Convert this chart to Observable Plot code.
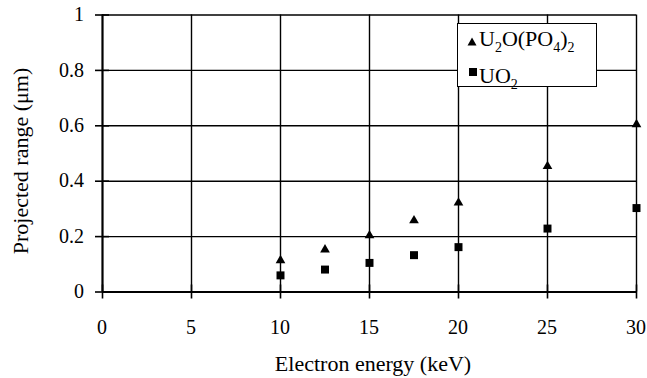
<!DOCTYPE html>
<html><head><meta charset="utf-8">
<script src="https://cdn.jsdelivr.net/npm/d3@7"></script>
<script src="https://cdn.jsdelivr.net/npm/@observablehq/plot@0.6"></script>
<style>
html,body{margin:0;padding:0;background:#fff;}
#wrap{position:relative;width:647px;height:378px;font-family:"Liberation Serif","Times New Roman",serif;color:#000;}
#wrap svg{display:block;}
.lbl{position:absolute;white-space:nowrap;font-family:"Liberation Serif","Times New Roman",serif;color:#000;}
.tick{font-size:20px;line-height:20px;}
.title{font-size:22px;line-height:22px;}
#legend{position:absolute;left:457px;top:23px;width:140px;height:64px;box-sizing:border-box;border:1.6px solid #000;background:#fff;}
.item{position:absolute;left:21px;font-size:22px;line-height:22px;white-space:nowrap;}
.item sub{font-size:14px;line-height:0;vertical-align:-6px;}
.sym{position:absolute;}
</style></head><body>
<div id="wrap"></div>
<script>
// Data
const energy = [10, 12.5, 15, 17.5, 20, 25, 30];            // keV
const rangeU2OPO4 = [0.114, 0.153, 0.204, 0.258, 0.322, 0.454, 0.605]; // µm
const rangeUO2 = [0.060, 0.081, 0.105, 0.133, 0.162, 0.229, 0.303];    // µm
const xTicks = [0, 5, 10, 15, 20, 25, 30];
const yTicks = [0, 0.2, 0.4, 0.6, 0.8, 1];
const xTitle = "Electron energy (keV)";
const yTitle = "Projected range (\u03bcm)";

const chart = Plot.plot({
  width: 647,
  height: 378,
  marginLeft: 102,
  marginRight: 11,
  marginTop: 14.5,
  marginBottom: 86.5,
  x: {domain: [0, 30]},
  y: {domain: [0, 1]},
  marks: [
    Plot.gridX(xTicks, {stroke: "#000", strokeOpacity: 1, strokeWidth: 1.4}),
    Plot.gridY(yTicks, {stroke: "#000", strokeOpacity: 1, strokeWidth: 1.4}),
    Plot.ruleX([0], {stroke: "#000", strokeWidth: 2}),
    Plot.ruleY([0], {stroke: "#000", strokeWidth: 2}),
    // crossing ticks (labels are drawn below as HTML from the same scales)
    Plot.axisX(xTicks, {tickSize: 14, dy: -7, tickFormat: () => "", label: null, strokeWidth: 1.6}),
    Plot.axisY(yTicks, {tickSize: 14, dx: 7, tickFormat: () => "", label: null, strokeWidth: 1.6}),
    // data
    Plot.dot(energy, {x: d => d, y: rangeU2OPO4, symbol: "triangle", r: 3.6, fill: "#000"}),
    Plot.dot(energy, {x: d => d, y: rangeUO2, symbol: "square", r: 4.5, fill: "#000"})
  ]
});

const wrap = document.getElementById("wrap");
wrap.appendChild(chart);

// Scales from the plot
const sxo = chart.scale("x"), syo = chart.scale("y");
const sx = sxo.apply ? (v => sxo.apply(v)) : d3.scaleLinear(sxo.domain, sxo.range);
const sy = syo.apply ? (v => syo.apply(v)) : d3.scaleLinear(syo.domain, syo.range);
const x0 = sx(0), x1 = sx(30), y0 = sy(0), y1 = sy(1);

function addLabel(text, cls, css) {
  const el = document.createElement("div");
  el.className = "lbl " + cls;
  el.textContent = text;
  Object.assign(el.style, css);
  wrap.appendChild(el);
  return el;
}

// x tick labels (baseline ~ 42.5px below the x axis)
for (const t of xTicks) {
  addLabel(String(t), "tick", {left: sx(t) + "px", top: (y0 + 25.8) + "px", transform: "translateX(-50%)"});
}
// y tick labels (right-aligned 18px left of the y axis)
for (const t of yTicks) {
  addLabel(String(t), "tick", {left: (x0 - 18) + "px", top: (sy(t) - 10.3) + "px", transform: "translateX(-100%)"});
}
// axis titles
addLabel(xTitle, "title", {left: ((x0 + x1) / 2 + 4) + "px", top: (y0 + 61) + "px", transform: "translateX(-50%)"});
addLabel(yTitle, "title", {left: (x0 - 81) + "px", top: ((y0 + y1) / 2 + 7.5) + "px", transform: "translate(-50%,-50%) rotate(-90deg)"});

// Legend (HTML overlay)
const legend = document.createElement("div");
legend.id = "legend";
legend.innerHTML = `
  <svg class="sym" style="left:9px;top:13px" width="10" height="9"><polygon points="5,0.5 9.5,8.5 0.5,8.5" fill="#000"/></svg>
  <div class="item" style="top:4.3px">U<sub>2</sub>O(PO<sub>4</sub>)<sub>2</sub></div>
  <svg class="sym" style="left:10.5px;top:44px" width="8" height="8"><rect x="0" y="0" width="8" height="8" fill="#000"/></svg>
  <div class="item" style="top:41px">UO<sub>2</sub></div>`;
wrap.appendChild(legend);
</script>
</body></html>
